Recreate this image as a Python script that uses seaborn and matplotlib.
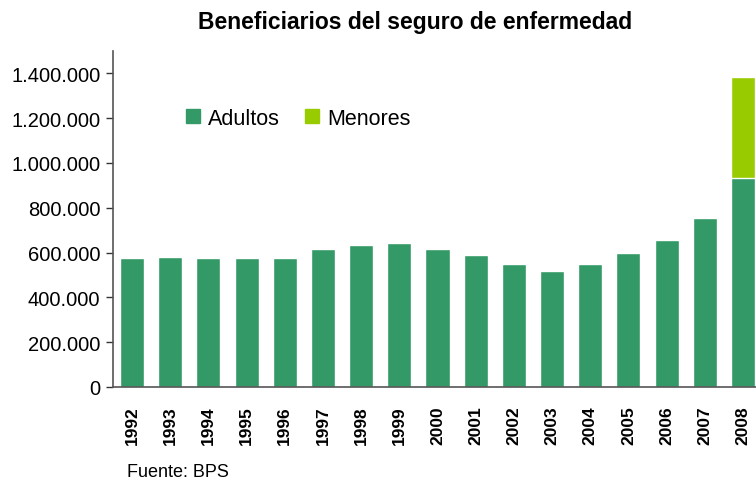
import seaborn as sns
import matplotlib.pyplot as plt
from matplotlib.patches import Patch
import pandas as pd

years = ['1992', '1993', '1994', '1995', '1996', '1997', '1998', '1999', '2000',
         '2001', '2002', '2003', '2004', '2005', '2006', '2007', '2008']
adultos = [577000, 582000, 577000, 577000, 577000, 618000, 636000, 645000, 618000,
           591000, 551000, 519000, 551000, 600000, 658000, 753000, 932000]
menores = [0, 0, 0, 0, 0, 0, 0, 0, 0, 0, 0, 0, 0, 0, 0, 0, 454000]
y_ticks = [0, 200000, 400000, 600000, 800000, 1000000, 1200000, 1400000]
y_labels = ['0', '200.000', '400.000', '600.000', '800.000', '1.000.000', '1.200.000', '1.400.000']

c_adultos = '#339966'
c_menores = '#99CC00'

df = pd.DataFrame({'year': years, 'Adultos': adultos, 'Menores': menores})
df['total'] = df['Adultos'] + df['Menores']

sns.set_style('white')
plt.rcParams['font.family'] = ['Liberation Sans', 'DejaVu Sans']
plt.rcParams['text.color'] = 'black'
plt.rcParams['xtick.color'] = 'black'
plt.rcParams['ytick.color'] = 'black'

fig = plt.figure(figsize=(7.56, 4.85), dpi=100)
ax = fig.add_axes([113 / 756, 97 / 485, 649 / 756, 336 / 485])

# totals first, adults drawn over them
sns.barplot(data=df, x='year', y='total', color=c_menores, width=0.63,
            saturation=1, ax=ax)
sns.barplot(data=df, x='year', y='Adultos', color=c_adultos, width=0.63,
            saturation=1, ax=ax)

ax.set_xlim(-0.5, len(years) - 0.5)
ax.set_ylim(0, 1500000)
ax.set_yticks(y_ticks)
ax.set_yticklabels(y_labels, fontsize=14.5)
ax.set_xticks(range(len(years)))
ax.set_xticklabels(years, rotation=90, fontsize=12.5, fontweight='bold')
ax.set_xticks([i + 0.5 for i in range(-1, len(years))], minor=True)
ax.tick_params(axis='x', which='major', length=0, pad=13)
ax.tick_params(axis='x', which='minor', length=6, width=1, color='#333333', direction='out')
ax.tick_params(axis='y', length=5, width=1, color='#333333', direction='out', left=True, pad=4)
ax.set_xlabel('')
ax.set_ylabel('')

for s in ['top', 'right']:
    ax.spines[s].set_visible(False)
for s in ['left', 'bottom']:
    ax.spines[s].set_color('#555555')
    ax.spines[s].set_linewidth(1.2)

handles = [Patch(color=c_adultos, label='Adultos'), Patch(color=c_menores, label='Menores')]
ax.legend(handles=handles, loc='center left', bbox_to_anchor=(0.083, 0.8), ncol=2,
          frameon=False, fontsize=15.5, handlelength=0.65, handleheight=0.65,
          handletextpad=0.35, columnspacing=1.2)

fig.text(415 / 756, 1 - 22 / 485, 'Beneficiarios del seguro de enfermedad',
         ha='center', va='center', fontsize=16.5, fontweight='bold')
fig.text(127 / 756, 1 - 473 / 485, 'Fuente: BPS', ha='left', va='center', fontsize=13)

fig.savefig('out.png', dpi=100)
